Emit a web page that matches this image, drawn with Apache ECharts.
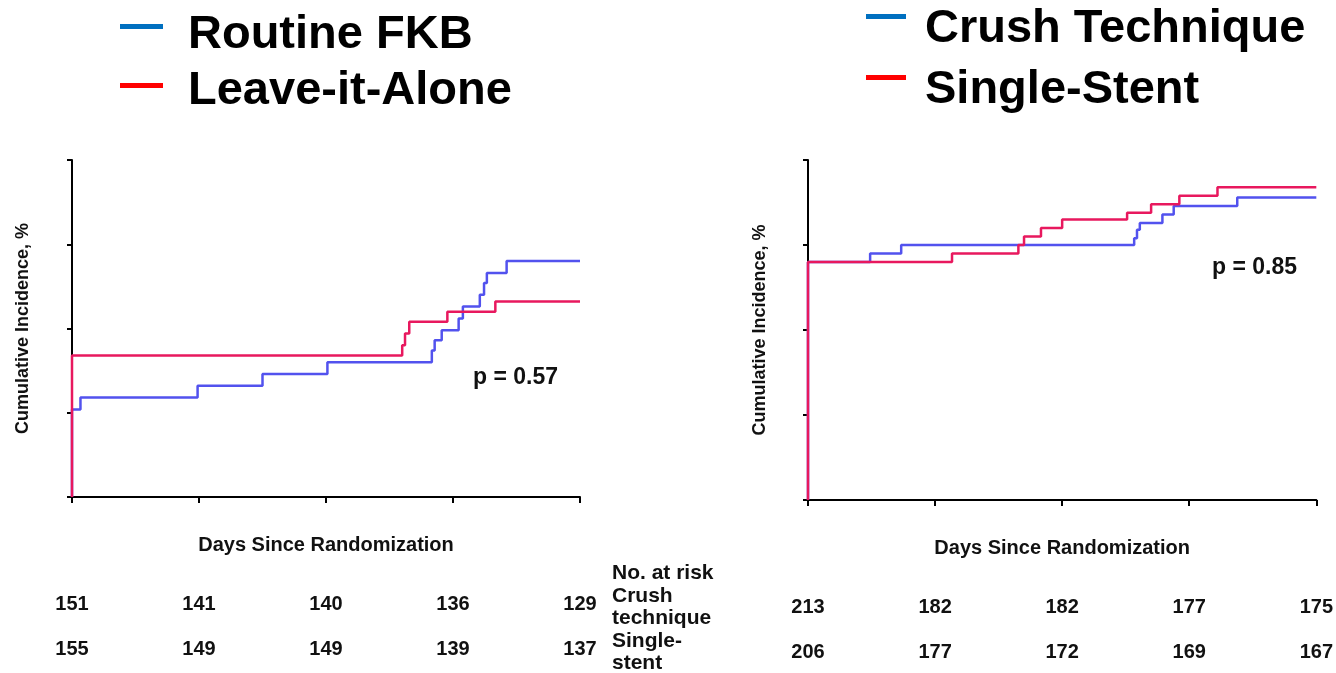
<!DOCTYPE html>
<html>
<head>
<meta charset="utf-8">
<script src="https://cdn.jsdelivr.net/npm/echarts@6/dist/echarts.min.js"></script>
<style>
  html, body { margin: 0; padding: 0; background: #ffffff; }
  #chart { width: 1336px; height: 673px; }
</style>
</head>
<body>
<div id="chart"></div>
<script>
// Cumulative incidence step curves: [day, percent]
const routineFKB = [[0,0],[0,5.2],[6,5.9],[89,6.6],[135,7.3],[181,8.0],[255,8.7],[257,9.3],[262,9.9],[274,10.6],[277,11.3],[289,12.0],[292,12.7],[294,13.3],[308,14.0],[360,14.0]];
const leaveItAlone = [[0,0],[0,8.4],[234,9.0],[236,9.7],[239,10.4],[266,11.0],[300,11.6],[360,11.6]];
const crushTechnique = [[0,0],[0,14.0],[44,14.5],[66,15.0],[231,15.4],[233,15.9],[235,16.3],[251,16.8],[259,17.3],[304,17.8],[360,17.8]];
const singleStent = [[0,0],[0,14.0],[102,14.5],[149,15.0],[153,15.5],[165,16.0],[180,16.5],[226,16.9],[243,17.4],[263,17.9],[290,18.4],[360,18.4]];

// Numbers at risk under each day tick
const riskFKB = [151, 141, 140, 136, 129];
const riskLeave = [155, 149, 149, 139, 137];
const riskCrush = [213, 182, 182, 177, 175];
const riskSingle = [206, 177, 172, 169, 167];

// Key entries for each panel
const keyLeft = ['Routine FKB', 'Leave-it-Alone'];
const keyRight = ['Crush Technique', 'Single-Stent'];
const keyColors = ['#0070c0', '#ff0000'];

const pLeft = 'p = 0.57';
const pRight = 'p = 0.85';
const riskCaption = ['No. at risk', 'Crush', 'technique', 'Single-', 'stent'];

const FONT = '"Liberation Sans", Arial, sans-serif';
const BLUE_LINE = '#5252ee';
const RED_LINE = '#e8185e';

const chart = echarts.init(document.getElementById('chart'), null, { renderer: 'canvas' });

function mainX(grid) {
  return {
    type: 'value', gridIndex: grid, min: 0, max: 360, interval: 90, position: 'bottom',
    name: 'Days Since Randomization', nameLocation: 'middle', nameGap: 38,
    nameTextStyle: { fontFamily: FONT, fontWeight: 'bold', fontSize: 20, color: '#111' },
    axisLine: { show: true, lineStyle: { color: '#000', width: 2 } },
    axisTick: { show: true, length: 6, lineStyle: { color: '#000', width: 2 } },
    axisLabel: { show: false },
    splitLine: { show: false }
  };
}

function riskX(grid, values, margin) {
  return {
    type: 'value', gridIndex: grid, min: 0, max: 360, interval: 90, position: 'bottom', offset: 0,
    axisLine: { show: false }, axisTick: { show: false }, splitLine: { show: false },
    axisLabel: {
      show: true, margin: margin, showMinLabel: true, showMaxLabel: true,
      fontFamily: FONT, fontWeight: 'bold', fontSize: 20, color: '#111',
      formatter: (v) => String(values[Math.round(v / 90)])
    }
  };
}

function mainY(grid, gap) {
  return {
    type: 'value', gridIndex: grid, min: 0, max: 20, interval: 5,
    name: 'Cumulative Incidence, %', nameLocation: 'middle', nameGap: gap, nameRotate: 90,
    nameTextStyle: { fontFamily: FONT, fontWeight: 'bold', fontSize: 18, color: '#111' },
    axisLine: { show: true, lineStyle: { color: '#000', width: 2 } },
    axisTick: { show: true, length: 5, lineStyle: { color: '#000', width: 2 } },
    axisLabel: { show: false },
    splitLine: { show: false }
  };
}

function curve(name, data, xi, yi, color) {
  return {
    name: name, type: 'line', step: 'end', data: data,
    xAxisIndex: xi, yAxisIndex: yi, symbol: 'none', silent: true,
    lineStyle: { color: color, width: 2.5 }, itemStyle: { color: color },
    animation: false
  };
}

// Key: a short colour bar followed by a large bold label
function keyItems(names, barX, barW, textX, barYs, textYs) {
  const out = [];
  names.forEach((n, i) => {
    out.push({
      type: 'rect', shape: { x: barX, y: barYs[i], width: barW, height: 5 },
      style: { fill: keyColors[i] }, silent: true
    });
    out.push({
      type: 'text',
      style: {
        x: textX, y: textYs[i], text: n, align: 'left', verticalAlign: 'middle',
        fontFamily: FONT, fontWeight: 'bold', fontSize: 47, fill: '#000'
      },
      silent: true
    });
  });
  return out;
}

const option = {
  backgroundColor: '#ffffff',
  animation: false,
  grid: [
    { left: 72, top: 160, width: 508, height: 337 },
    { left: 808, top: 160, width: 510, height: 340 }
  ],
  xAxis: [
    mainX(0), riskX(0, riskFKB, 97), riskX(0, riskLeave, 142),
    mainX(1), riskX(1, riskCrush, 97), riskX(1, riskSingle, 142)
  ],
  yAxis: [mainY(0, 40), mainY(1, 39)],
  series: [
    curve('Routine FKB', routineFKB, 0, 0, BLUE_LINE),
    curve('Leave-it-Alone', leaveItAlone, 0, 0, RED_LINE),
    curve('Crush Technique', crushTechnique, 3, 1, BLUE_LINE),
    curve('Single-Stent', singleStent, 3, 1, RED_LINE)
  ],
  graphic: [
    ...keyItems(keyLeft, 120, 43, 188, [24, 83], [35, 91]),
    ...keyItems(keyRight, 866, 40, 925, [14, 75], [29, 90]),
    {
      type: 'text', left: 473, top: 366,
      style: { text: pLeft, fontFamily: FONT, fontWeight: 'bold', fontSize: 23, fill: '#111' }
    },
    {
      type: 'text', left: 1212, top: 256,
      style: { text: pRight, fontFamily: FONT, fontWeight: 'bold', fontSize: 23, fill: '#111' }
    },
    {
      type: 'text', left: 612, top: 562,
      style: { text: riskCaption.join('\n'), fontFamily: FONT, fontWeight: 'bold', fontSize: 21, lineHeight: 22.5, fill: '#111' }
    }
  ]
};

chart.setOption(option);
</script>
</body>
</html>
